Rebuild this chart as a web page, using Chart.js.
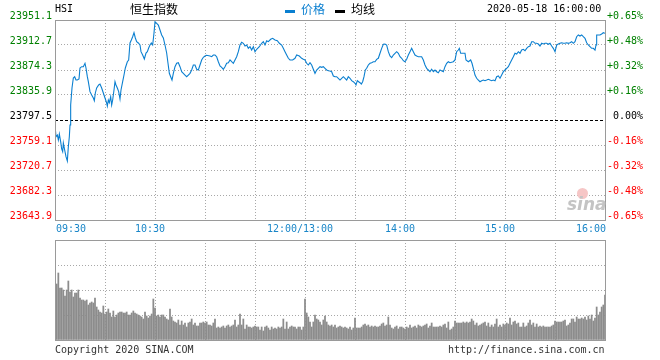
<!DOCTYPE html>
<html><head><meta charset="utf-8">
<script src="https://cdn.jsdelivr.net/npm/chart.js@4.4.0/dist/chart.umd.min.js"></script>
<style>
html,body{margin:0;padding:0;background:#fff;}
#wrap{position:relative;width:660px;height:360px;overflow:hidden;background:#fff;}
canvas{position:absolute;left:0;}
.t{position:absolute;font-family:"DejaVu Sans Mono",monospace;font-size:10px;line-height:10px;white-space:pre;color:#000;}
.c{position:absolute;font-family:"Noto Sans CJK SC";font-size:12px;line-height:12px;white-space:pre;color:#000;}
.dash{position:absolute;height:3px;width:10px;}
</style></head><body>
<div id="wrap">
<canvas id="price" width="660" height="240" style="top:0"></canvas>
<canvas id="vol" width="660" height="110" style="top:235px"></canvas>
<span class="t" style="left:55px;top:4px;">HSI</span>
<span class="c" style="left:130px;top:3px;">恒生指数</span>
<div class="dash" style="left:285px;top:10px;background:#0a7fd0;"></div>
<span class="c" style="left:301px;top:3px;color:#0a7fd0;">价格</span>
<div class="dash" style="left:335px;top:10px;background:#000;"></div>
<span class="c" style="left:351px;top:3px;">均线</span>
<span class="t" style="left:487px;top:4px;">2020-05-18 16:00:00</span>
<span class="t" style="left:55px;top:345px;color:#333;">Copyright 2020 SINA.COM</span>
<span class="t" style="left:448px;top:345px;color:#333;">http://finance.sina.com.cn</span>
<div style="position:absolute;left:577px;top:188px;width:11px;height:11px;border-radius:50%;background:#f6c6c6;"></div>
<span style="position:absolute;left:567px;top:196px;font:italic bold 17px 'DejaVu Sans';line-height:17px;color:#c4c4c4;">sina</span>
</div>
<script>
// ---- data ----
const prevClose = 23797.5;
const priceTicks = [23643.9,23682.3,23720.7,23759.1,23797.5,23835.9,23874.3,23912.7,23951.1];
const pctLabels = ['-0.65%','-0.48%','-0.32%','-0.16%','0.00%','+0.16%','+0.32%','+0.48%','+0.65%'];
const timeTicks = [0,30,60,90,120,150,180,210,240,270,300,330];
const timeLabels = {0:'09:30',60:'10:30',150:'12:00/13:00',210:'14:00',270:'15:00',330:'16:00'};
// minutes since 09:30 (trading minutes)
const times = [0,0.6,1.4,2,2.6,3.4,4,4.6,5,5.8,6.6,7.4,8,8.6,9,9.4,10.2,11,11.8,12.6,13.4,14.4,15,16,17,18,18.6,19.4,20,21,22,23,23.6,24.2,25,26.2,27,28,29,30,31,31.4,32,32.6,33.4,34,34.6,35.4,36,36.6,37.4,38.2,39,39.6,40.6,41.4,42.2,43.4,44.2,45,45.8,46.6,47.4,48.2,49,50,51,51.6,52.6,53.6,54.6,55.4,56.2,57,57.8,58.6,59.4,60,61,62,63,64,65,66,67,67.8,68.6,69.4,70.2,71,72,73,74,75,76,77,78,79,80,81,82,83,84,85,86,87,88,89,90,91,93,94,95,96,97,98,99,100,101,102,103,104,105,106,107,108,109,110,111,112,113,114,115,116,117,118,119,120,121,122.6,124,125,126,127,128,129.4,130.6,132,133.4,134.6,136,137,138,139,140,141,142.6,144,145,146.6,148,149,150,151,152,153,154,155,156,157,158,159,160,161,162,163,164,165,166,167,168,169,170,171,172,173,174,175,176,177,178,179,180,180.6,181.4,182.2,183,183.8,184.6,185.4,186.2,187,188,189,190,191,192,193,194,195,196,197,198,199,200,201,202,203,204,205,206,207,208,209,210,211,212,213,214,215,216,217,218,219,220,221,222,223,224,225,226,227,228,229,230,231,233,234,235,236,237,239,240,241,242,242.6,243.4,245,246,246.6,248,249.4,250.2,251,252,253,254,255,256,257,258,259,260,261,262,263,264,265,266,267,268,269,270,271,272,273,274,275,276,277,278,279,280,281,282,283,284,285,286,287,288,289,290,291,292,293,294,295,296,297,298,299,300,301,302,303,304,305,306,307,308,309,310,311,312,313,314,315,316,317,318,319,320,321,322,323,324,324.6,325,326,327,328,329,330];
const prices = [23789.8,23771.8,23774.5,23766.8,23776.0,23764.2,23753.0,23748.8,23762.2,23751.4,23741.1,23734.5,23756.5,23771.8,23789.8,23820.5,23846.7,23862.0,23864.0,23858.9,23858.9,23860.5,23877.4,23879.4,23879.4,23884.6,23877.4,23864.0,23856.3,23841.0,23835.9,23831.3,23827.1,23839.0,23846.7,23851.3,23852.8,23846.7,23839.0,23831.3,23823.6,23819.0,23828.2,23824.1,23833.3,23820.5,23828.2,23843.6,23856.3,23851.3,23846.7,23841.0,23829.8,23843.6,23856.3,23866.6,23877.4,23887.0,23889.7,23915.8,23920.4,23925.4,23931.6,23923.5,23917.8,23915.8,23912.7,23902.4,23897.3,23891.2,23900.4,23902.4,23908.1,23912.7,23915.8,23912.7,23931.1,23948.5,23946.0,23943.4,23935.7,23928.1,23923.5,23912.7,23900.4,23884.6,23869.2,23864.0,23858.9,23869.2,23879.4,23884.6,23885.5,23879.4,23871.7,23869.2,23866.6,23864.0,23866.6,23869.2,23874.3,23882.0,23882.0,23875.4,23874.3,23882.0,23889.7,23893.8,23895.8,23896.9,23895.8,23894.7,23897.3,23897.3,23894.7,23887.0,23880.4,23878.4,23875.4,23879.4,23884.6,23885.5,23889.7,23887.0,23884.6,23889.7,23894.7,23902.4,23912.7,23916.8,23915.3,23911.2,23912.7,23907.6,23910.1,23905.0,23910.1,23902.4,23906.1,23910.1,23915.3,23917.8,23912.7,23919.3,23917.8,23921.5,23923.0,23920.4,23919.3,23915.3,23912.7,23907.6,23902.4,23897.3,23892.3,23889.7,23889.7,23892.3,23897.3,23895.8,23892.3,23890.7,23889.7,23884.6,23882.0,23885.5,23882.0,23875.4,23869.2,23874.3,23876.9,23879.4,23878.4,23879.4,23876.9,23874.3,23873.2,23872.8,23871.7,23865.1,23864.0,23864.0,23861.6,23858.9,23861.6,23864.0,23861.6,23858.9,23864.0,23861.6,23857.9,23856.3,23853.9,23851.3,23857.9,23856.3,23854.8,23852.8,23856.3,23864.0,23874.3,23876.9,23882.0,23884.6,23885.5,23887.0,23887.0,23890.7,23892.3,23900.0,23907.6,23913.8,23914.2,23912.7,23902.4,23895.8,23893.2,23897.3,23900.0,23902.4,23900.0,23894.7,23892.3,23888.6,23887.0,23890.7,23897.3,23902.4,23907.6,23902.4,23897.3,23895.8,23894.7,23894.7,23894.7,23889.7,23882.0,23876.9,23874.3,23871.7,23875.4,23871.7,23874.3,23871.7,23870.2,23874.3,23871.7,23879.4,23884.6,23887.0,23885.5,23887.0,23889.7,23902.4,23905.0,23907.6,23900.0,23900.0,23900.0,23889.7,23887.0,23889.7,23884.6,23876.9,23866.6,23861.6,23858.9,23856.3,23857.9,23858.9,23857.9,23858.9,23860.0,23858.9,23857.9,23858.9,23857.9,23864.0,23865.1,23861.6,23866.6,23871.7,23874.3,23876.9,23879.4,23884.6,23889.7,23894.7,23900.0,23898.9,23902.4,23900.0,23905.0,23906.1,23903.9,23907.6,23910.1,23911.2,23917.8,23917.8,23915.3,23915.3,23914.2,23911.2,23915.3,23914.2,23915.3,23915.3,23913.8,23915.3,23911.2,23907.6,23902.4,23912.7,23914.2,23915.3,23916.2,23915.3,23915.3,23916.2,23915.3,23916.2,23917.8,23915.3,23917.8,23925.4,23928.1,23926.5,23928.1,23925.4,23923.0,23916.2,23912.7,23910.1,23907.6,23907.6,23905.0,23912.7,23928.1,23928.1,23928.1,23929.6,23931.6,23930.7];
// per-minute volume (relative units, 0..100 = panel height)
const volumes = [81,56,67,52,52,50,44,50,59,48,
50,43,47,47,50,42,40,40,39,40,
35,37,38,37,42,33,30,28,27,34,
26,28,31,27,23,29,23,25,27,28,
28,27,27,28,25,25,27,29,27,26,
25,24,23,21,28,24,22,24,26,41,
32,24,25,23,25,25,23,21,20,31,
23,19,18,17,20,15,19,15,17,13,
17,18,21,15,17,14,14,17,17,18,
17,18,15,15,14,17,21,12,13,12,
13,14,12,14,15,13,14,15,20,13,
15,26,15,21,11,15,13,13,12,13,
14,13,13,10,13,9,13,14,12,10,
13,11,12,11,13,12,13,21,11,18,
11,13,14,13,13,11,13,13,10,13,
41,27,23,18,13,18,25,21,20,18,
15,20,24,18,15,
14,15,13,15,12,13,14,13,12,13,
12,11,13,10,12,22,12,12,12,13,
15,16,14,15,13,14,13,14,13,13,
14,16,17,14,15,23,15,12,11,13,
14,11,13,13,12,11,13,12,15,12,
13,14,12,15,14,13,14,15,16,12,
14,17,13,13,13,13,14,13,15,16,
12,18,10,11,13,19,17,17,17,17,
18,17,18,17,18,21,19,15,17,14,
15,16,17,18,14,17,13,15,13,16,
21,13,15,13,16,15,17,16,22,15,
18,19,16,17,13,13,17,13,14,17,
20,15,17,13,16,13,14,13,14,13,
13,13,13,14,15,19,18,18,18,18,
19,20,14,15,17,21,21,18,23,21,
21,22,21,23,20,24,21,25,19,22,
33,25,28,33,35,45];

// ---- styling ----
const GRID = '#a8a8a8', FRAME = '#9a9a9a', LINE = '#0a7fd0';
const UP = '#008000', DOWN = '#ff0000', TIMEC = '#1a86c8';
Chart.defaults.font.family = '"DejaVu Sans Mono", monospace';
Chart.defaults.font.size = 10;
Chart.defaults.animation = false;

const isPrev = v => Math.abs(v - prevClose) < 0.01;
const tickColor = ctx => { const v = ctx.tick.value; return isPrev(v) ? '#000' : (v > prevClose ? UP : DOWN); };
const frame = { id:'frame', afterDraw(chart){ const a = chart.chartArea, c = chart.ctx; c.save(); c.strokeStyle = FRAME; c.lineWidth = 1; c.strokeRect(Math.round(a.left)+0.5, Math.round(a.top)+0.5, Math.round(a.right-a.left), Math.round(a.bottom-a.top)); c.restore(); } };
const setTicks = arr => scale => { scale.ticks = arr.map(v => ({value: v})); };

new Chart(document.getElementById('price'), {
  type: 'line',
  data: { datasets: [
    { data: times.map((t,i) => ({x:t, y:prices[i]})), borderColor: LINE, borderWidth: 1.1, pointRadius: 0, tension: 0, yAxisID: 'y', order: 0 }
  ]},
  options: {
    responsive: false, devicePixelRatio: 1,
    layout: { padding: { top: 20, right: 17, left: 0, bottom: 0 } },
    plugins: { legend: { display: false }, tooltip: { enabled: false } },
    scales: {
      x: { type: 'linear', min: 0, max: 330,
        afterBuildTicks: setTicks(timeTicks),
        afterFit: s => { s.height = 20; s.paddingLeft = 0; s.paddingRight = 0; },
        grid: { color: GRID, drawTicks: false }, border: { display: false, dash: [1,2] },
        ticks: { autoSkip: false, maxRotation: 0, minRotation: 0, padding: 3, labelOffset: -5, color: TIMEC,
          callback: v => { const l = timeLabels[v] || ''; if (v === 0) return '       ' + l; if (v === 330) return l + '   '; return l; } } },
      y: { position: 'left', min: priceTicks[0], max: priceTicks[priceTicks.length-1],
        afterBuildTicks: setTicks(priceTicks),
        afterFit: s => { s.width = 55; },
        grid: { color: ctx => (ctx.tick && isPrev(ctx.tick.value)) ? 'rgba(0,0,0,0)' : GRID, drawTicks: false },
        border: { display: false, dash: [1,2] },
        ticks: { padding: 3, labelOffset: -4, color: tickColor, callback: v => v.toFixed(1) } },
      y2: { position: 'right', min: priceTicks[0], max: priceTicks[priceTicks.length-1],
        afterBuildTicks: setTicks(priceTicks),
        afterFit: s => { s.width = 38; },
        grid: { color: ctx => (ctx.tick && isPrev(ctx.tick.value)) ? '#000' : 'rgba(0,0,0,0)', drawTicks: false },
        border: { display: false, dash: [3,2] },
        ticks: { padding: 1, crossAlign: 'far', labelOffset: -4, color: tickColor, callback: (v, i) => pctLabels[i] } }
    }
  },
  plugins: [frame]
});

new Chart(document.getElementById('vol'), {
  type: 'bar',
  data: { datasets: [
    { data: volumes.map((v,i) => ({x:i, y:v})), backgroundColor: '#8c8c8c', borderWidth: 0, barThickness: 1.1 }
  ]},
  options: {
    responsive: false, devicePixelRatio: 1,
    layout: { padding: { top: 5, right: 55, left: 0, bottom: 5 } },
    plugins: { legend: { display: false }, tooltip: { enabled: false } },
    scales: {
      x: { type: 'linear', min: 0, max: 330, offset: false,
        afterBuildTicks: setTicks(timeTicks),
        afterFit: s => { s.height = 0; s.paddingLeft = 0; s.paddingRight = 0; },
        grid: { color: GRID, drawTicks: false, offset: false }, border: { display: false, dash: [1,2] },
        ticks: { display: false } },
      y: { min: 0, max: 100,
        afterBuildTicks: setTicks([0,25,50,75,100]),
        afterFit: s => { s.width = 55; },
        grid: { color: GRID, drawTicks: false }, border: { display: false, dash: [1,2] },
        ticks: { display: false } }
    }
  },
  plugins: [frame]
});
</script>
</body></html>
